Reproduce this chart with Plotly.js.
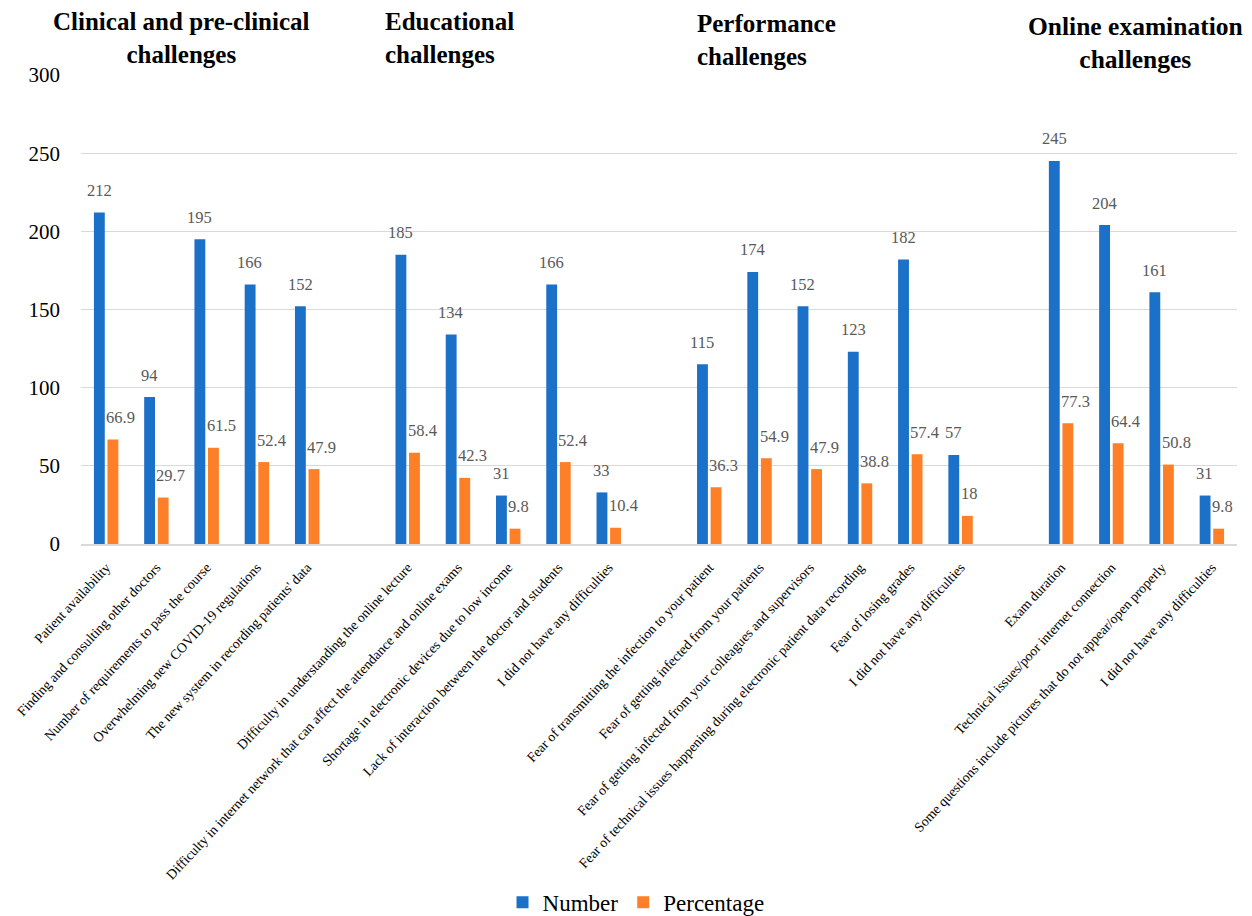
<!DOCTYPE html>
<html>
<head>
<meta charset="utf-8">
<script src="https://cdn.plot.ly/plotly-3.0.1.min.js"></script>
<style>html,body{margin:0;padding:0;background:#fff;overflow:hidden;}#chart{width:1252px;height:916px;}</style>
</head>
<body>
<div id="chart"></div>
<script>
// Group headings
const groupTitles = ["Clinical and pre-clinical<br>challenges", "Educational<br>challenges", "Performance<br>challenges", "Online examination<br>challenges"];

// Categories per group
const clinicalCats = ["Patient availability", "Finding and consulting other doctors", "Number of requirements to pass the course", "Overwhelming new COVID-19 regulations", "The new system in recording patients' data"];
const educationalCats = ["Difficulty in understanding the online lecture", "Difficulty in internet network that can affect the attendance and online exams", "Shortage in electronic devices due to low income", "Lack of interaction between the doctor and students", "I did not have any difficulties"];
const performanceCats = ["Fear of transmitting the infection to your patient", "Fear of getting infected from your patients", "Fear of getting infected from your colleagues and supervisors", "Fear of technical issues happening during electronic patient data recording", "Fear of losing grades", "I did not have any difficulties"];
const onlineCats = ["Exam duration", "Technical issues/poor internet connection", "Some questions include pictures that do not appear/open properly", "I did not have any difficulties"];

// Values
const clinicalNumber = [212, 94, 195, 166, 152];
const clinicalPct = [66.9, 29.7, 61.5, 52.4, 47.9];
const educationalNumber = [185, 134, 31, 166, 33];
const educationalPct = [58.4, 42.3, 9.8, 52.4, 10.4];
const performanceNumber = [115, 174, 152, 123, 182, 57];
const performancePct = [36.3, 54.9, 47.9, 38.8, 57.4, 18];
const onlineNumber = [245, 204, 161, 31];
const onlinePct = [77.3, 64.4, 50.8, 9.8];

const seriesNames = ["Number", "Percentage"];

// Build combined arrays with an empty slot between groups
const groups = [
  {cats: clinicalCats, num: clinicalNumber, pct: clinicalPct},
  {cats: educationalCats, num: educationalNumber, pct: educationalPct},
  {cats: performanceCats, num: performanceNumber, pct: performancePct},
  {cats: onlineCats, num: onlineNumber, pct: onlinePct}
];
const xPos = [], labels = [], nums = [], pcts = [];
let idx = 0;
groups.forEach((g, gi) => {
  g.cats.forEach((c, i) => {
    xPos.push(idx); labels.push(c); nums.push(g.num[i]); pcts.push(g.pct[i]);
    idx++;
  });
  if (gi < groups.length - 1) idx++;
});
const nSlots = idx;

const serif = "Liberation Serif, Times New Roman, serif";
const labelFont = {family: serif, size: 16.5, color: "#595959"};

const traces = [
  {type: "bar", name: seriesNames[0], x: xPos, y: nums, marker: {color: "#1b70c8"}, hoverinfo: "y"},
  {type: "bar", name: seriesNames[1], x: xPos, y: pcts, marker: {color: "#fd7f28"}, hoverinfo: "y"}
];

// Data labels (from the same arrays), placed like the original: Number centred, Percentage starting at bar edge
const dataLabels = [];
xPos.forEach((x, i) => {
  dataLabels.push({x: x, y: nums[i], xref: "x", yref: "y", text: String(nums[i]), showarrow: false,
    xanchor: "center", yanchor: "middle", xshift: -7, yshift: 22, font: labelFont});
  dataLabels.push({x: x, y: pcts[i], xref: "x", yref: "y", text: String(pcts[i]), showarrow: false,
    xanchor: "left", yanchor: "middle", xshift: -2, yshift: 22, font: labelFont});
});

const titleFont = {family: serif, size: 25, color: "#000"};
const titles = [
  {text: "<b>" + groupTitles[0] + "</b>", xref: "paper", yref: "paper", x: 0.087, y: 1.078, xanchor: "center", yanchor: "middle", align: "center", showarrow: false, font: titleFont},
  {text: "<b>" + groupTitles[1] + "</b>", xref: "paper", yref: "paper", x: 0.261, y: 1.078, xanchor: "left", yanchor: "middle", align: "left", showarrow: false, font: titleFont},
  {text: "<b>" + groupTitles[2] + "</b>", xref: "paper", yref: "paper", x: 0.531, y: 1.074, xanchor: "left", yanchor: "middle", align: "left", showarrow: false, font: titleFont},
  {text: "<b>" + groupTitles[3] + "</b>", xref: "paper", yref: "paper", x: 0.912, y: 1.069, xanchor: "center", yanchor: "middle", align: "center", showarrow: false, font: {family: serif, size: 25.5, color: "#000"}}
];

const layout = {
  width: 1252, height: 916,
  margin: {l: 81, r: 15, t: 75, b: 372},
  paper_bgcolor: "#fff", plot_bgcolor: "#fff",
  barmode: "group", bargap: 0.46, bargroupgap: 0.2,
  showlegend: true,
  legend: {orientation: "h", xref: "container", yref: "container", x: 0.508, xanchor: "center", y: 0.015, yanchor: "middle",
           font: {family: serif, size: 23, color: "#000"}, itemwidth: 30, traceorder: "normal"},
  xaxis: {
    range: [-0.5, nSlots - 0.5],
    tickmode: "array", tickvals: xPos, ticktext: labels, tickangle: -47,
    tickfont: {family: serif, size: 13.8, color: "#000"},
    showgrid: false, zeroline: false, showline: true, linecolor: "#d9d9d9", linewidth: 2,
    ticks: "", ticklabelstandoff: 8, automargin: false
  },
  yaxis: {
    range: [0, 300], dtick: 50, tick0: 0,
    tickfont: {family: serif, size: 21, color: "#000"},
    showgrid: true, gridcolor: "#d9d9d9", gridwidth: 1.3,
    zeroline: false, showline: false, ticks: "", ticklabelstandoff: 20,
    automargin: false
  },
  annotations: titles.concat(dataLabels)
};

Plotly.newPlot("chart", traces, layout, {displayModeBar: false, responsive: false});
</script>
</body>
</html>
